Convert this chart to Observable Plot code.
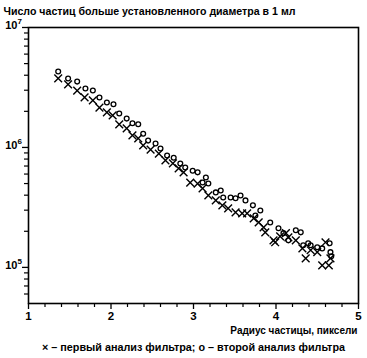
<!DOCTYPE html>
<html>
<head>
<meta charset="utf-8">
<script src="https://cdn.jsdelivr.net/npm/d3@7"></script>
<script src="https://cdn.jsdelivr.net/npm/@observablehq/plot@0.6"></script>
<style>
  html, body { margin: 0; padding: 0; background: #fff; }
</style>
</head>
<body>
<div id="chart"></div>
<script>
const titleText = "Число частиц больше установленного диаметра в 1 мл";
const xLabelText = "Радиус частицы, пиксели";
const captionText = "× – первый анализ фильтра; о – второй анализ фильтра";

const xMajor = [1, 2, 3, 4, 5];
const xMinor = [1.2, 1.4, 1.6, 1.8, 2.2, 2.4, 2.6, 2.8, 3.2, 3.4, 3.6, 3.8, 4.2, 4.4, 4.6, 4.8];
const yMajor = [1e5, 1e6, 1e7];
const yMajorBase = ["10", "10", "10"];
const yMajorExp = ["5", "6", "7"];
const yMinor = [6e4, 7e4, 8e4, 9e4, 2e5, 3e5, 4e5, 5e5, 6e5, 7e5, 8e5, 9e5, 2e6, 3e6, 4e6, 5e6, 6e6, 7e6, 8e6, 9e6];

// First filter analysis (×)
const crossX = [1.36, 1.48, 1.59, 1.68, 1.78, 1.86, 1.95, 2.02, 2.10, 2.19, 2.26, 2.33, 2.39, 2.48, 2.58, 2.66, 2.75, 2.82, 2.88, 2.96, 3.05, 3.11, 3.18, 3.27, 3.35, 3.42, 3.51, 3.59, 3.65, 3.73, 3.79, 3.85, 3.87, 3.97, 3.99, 4.05, 4.12, 4.15, 4.24, 4.32, 4.36, 4.42, 4.50, 4.56, 4.60, 4.64, 4.66];
const crossY = [3.76e6, 3.35e6, 2.98e6, 2.61e6, 2.47e6, 2.15e6, 1.96e6, 1.85e6, 1.56e6, 1.44e6, 1.26e6, 1.19e6, 1.04e6, 9.6e5, 8.9e5, 7.8e5, 7.35e5, 6.7e5, 6.2e5, 5.1e5, 5.0e5, 4.55e5, 3.98e5, 3.62e5, 3.29e5, 3.1e5, 2.87e5, 2.82e5, 2.82e5, 2.56e5, 2.37e5, 2.16e5, 1.96e5, 1.68e5, 1.62e5, 1.81e5, 1.93e5, 1.78e5, 1.68e5, 1.44e5, 1.19e5, 1.39e5, 1.34e5, 1.04e5, 1.62e5, 1.04e5, 1.19e5];

// Second filter analysis (o)
const circleX = [1.36, 1.48, 1.59, 1.69, 1.78, 1.86, 1.95, 2.03, 2.10, 2.19, 2.26, 2.33, 2.39, 2.45, 2.54, 2.60, 2.68, 2.76, 2.84, 2.90, 2.99, 3.05, 3.11, 3.15, 3.18, 3.27, 3.33, 3.36, 3.45, 3.51, 3.57, 3.63, 3.72, 3.75, 3.81, 3.93, 4.03, 4.09, 4.15, 4.24, 4.30, 4.33, 4.39, 4.42, 4.50, 4.56, 4.65, 4.66, 4.67];
const circleY = [4.3e6, 3.76e6, 3.54e6, 3.1e6, 2.98e6, 2.61e6, 2.37e6, 2.29e6, 1.92e6, 1.74e6, 1.59e6, 1.56e6, 1.30e6, 1.14e6, 1.08e6, 9.8e5, 8.55e5, 8.2e5, 7.35e5, 6.8e5, 6.4e5, 6.2e5, 5.1e5, 5.62e5, 5.0e5, 4.22e5, 4.38e5, 3.83e5, 3.83e5, 3.77e5, 3.98e5, 3.62e5, 3.29e5, 2.71e5, 2.98e5, 2.37e5, 2.12e5, 1.93e5, 1.68e5, 2.04e5, 1.96e5, 1.53e5, 1.59e5, 1.53e5, 1.47e5, 1.44e5, 1.59e5, 1.34e5, 1.24e5];

const crosses = crossX.map((x, i) => ({x, y: crossY[i]}));
const circles = circleX.map((x, i) => ({x, y: circleY[i]}));

const chart = Plot.plot({
  width: 367,
  height: 358,
  marginTop: 27,
  marginBottom: 55,
  marginLeft: 28,
  marginRight: 9,
  style: {fontFamily: "Liberation Sans, Arial, sans-serif", fontSize: "11px", fontWeight: "bold", background: "#fff", color: "#000"},
  x: {domain: [1, 5]},
  y: {type: "log", domain: [5e4, 1e7]},
  marks: [
    Plot.axisX({ticks: xMinor, tickSize: 4, text: null, label: null, strokeWidth: 1.2}),
    Plot.axisX({ticks: xMajor, tickSize: 6, tickPadding: 2, tickFormat: d => String(d), label: null, strokeWidth: 1.3, fontSize: 11.5}),
    Plot.axisY({ticks: yMinor, tickSize: 4, text: null, label: null, strokeWidth: 1.2}),
    Plot.axisY({ticks: yMajor, tickSize: 6, text: null, label: null, strokeWidth: 1.3}),
    Plot.text(yMajor, {y: d => d, text: (d, i) => yMajorBase[i], frameAnchor: "left", dx: -11, dy: -2, textAnchor: "end", fontSize: 11, fontWeight: "bold"}),
    Plot.text(yMajor, {y: d => d, text: (d, i) => yMajorExp[i], frameAnchor: "left", dx: -11, dy: -6, textAnchor: "start", fontSize: 8, fontWeight: "bold"}),
    Plot.frame({stroke: "black", strokeWidth: 1.6}),
    Plot.dot(crosses, {x: "x", y: "y", symbol: "times", r: 3.6, stroke: "black", strokeWidth: 1.4}),
    Plot.dot(circles, {x: "x", y: "y", symbol: "circle", r: 2.4, stroke: "black", fill: "none", strokeWidth: 1.3}),
    Plot.text([titleText], {frameAnchor: "top-left", dx: -25, dy: -20, textAnchor: "start", fontSize: 10.6, fontWeight: "bold"}),
    Plot.text([xLabelText], {frameAnchor: "bottom-right", dx: -1, dy: 30, textAnchor: "end", fontSize: 10, fontWeight: "bold"}),
    Plot.text([captionText], {frameAnchor: "bottom", dx: 0, dy: 47, fontSize: 10.8, fontWeight: "bold"})
  ]
});
document.getElementById("chart").appendChild(chart);
</script>
</body>
</html>
